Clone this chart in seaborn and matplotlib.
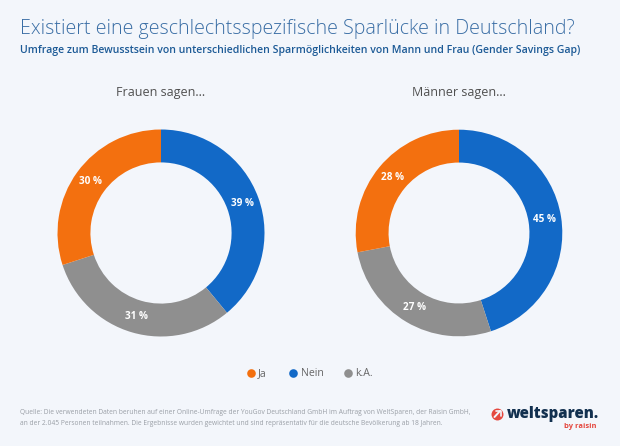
import math
import matplotlib
matplotlib.use('Agg')
import matplotlib.pyplot as plt
from matplotlib.lines import Line2D
import seaborn as sns

#%% data
labels = ['Nein', 'k.A.', 'Ja']
frauen = [39, 31, 30]
maenner = [45, 27, 28]
legend_labels = ['Ja', 'Nein', 'k.A.']
title = 'Existiert eine geschlechtsspezifische Sparlücke in Deutschland?'
subtitle = 'Umfrage zum Bewusstsein von unterschiedlichen Sparmöglichkeiten von Mann und Frau (Gender Savings Gap)'
source = ('Quelle: Die verwendeten Daten beruhen auf einer Online-Umfrage der YouGov Deutschland GmbH im Auftrag von WeltSparen, der Raisin GmbH,\n'
          'an der 2.045 Personen teilnahmen. Die Ergebnisse wurden gewichtet und sind repräsentativ für die deutsche Bevölkerung ab 18 Jahren.')

#%% setup plot
colors = {'Ja': '#f3700f', 'Nein': '#1269c7', 'k.A.': '#8f8f8f'}
bg = '#f3f6fb'
W, H = 620, 446
sns.set_theme(style='white')
plt.rcParams['font.family'] = ['Open Sans', 'DejaVu Sans']
fig = plt.figure(figsize=(W / 100, H / 100), dpi=100, facecolor=bg)

def donut(values, cx, cy, r, heading):
    ax = fig.add_axes([(cx - r) / W, 1 - (cy + r) / H, 2 * r / W, 2 * r / H])
    ax.pie(values, colors=[colors[l] for l in labels], startangle=90,
           counterclock=False, radius=1, wedgeprops={'width': 0.318, 'linewidth': 0})
    ax.set_xlim(-1, 1)
    ax.set_ylim(-1, 1)
    ax.set_aspect('equal')
    ax.axis('off')
    # value labels sit in the ring
    start = 90
    for v in values:
        mid = math.radians(start - v * 3.6 / 2)
        ax.text(0.84 * math.cos(mid), 0.84 * math.sin(mid), f'{v} %', color='white',
                fontsize=7.2, fontweight='bold', ha='center', va='center')
        start -= v * 3.6
    fig.text(cx / W, 1 - 92.5 / H, heading, color='#505050', fontsize=9.0, ha='center', va='center',
             fontweight='medium')

donut(frauen, 161, 233, 103.5, 'Frauen sagen...')
donut(maenner, 459, 233, 103.3, 'Männer sagen...')

fig.text(20.5 / W, 1 - 29 / H, title, color='#3a6ea5', fontsize=14.1, va='center', ha='left', fontweight='light')
fig.text(20.5 / W, 1 - 50 / H, subtitle, color='#1c5a96', fontsize=7.57, va='center', ha='left', fontweight='semibold')
fig.text(20.5 / W, 1 - 418 / H, source, color='#9a9fa6', fontsize=4.78, va='center', ha='left', linespacing=1.65)

#%% legend
for lab, mx in zip(legend_labels, [250.5, 293, 348]):
    fig.add_artist(Line2D([mx / W], [1 - 373 / H], marker='o', markersize=6.2, color=colors[lab],
                          linestyle='none', markeredgewidth=0, transform=fig.transFigure))
    fig.text((mx + 7.5) / W, 1 - 373.5 / H, lab, color='#666666', fontsize=7.6, va='center', ha='left')

#%% logo
fig.text(506.5 / W, 1 - 414.5 / H, 'weltsparen.', color='#12304f', fontsize=10.8, fontweight='heavy', va='center', ha='left')
fig.text(580 / W, 1 - 426 / H, 'by raisin', color='#e5483f', fontsize=5.4, fontweight='bold', va='center', ha='center')
fig.add_artist(Line2D([497.5 / W], [1 - 413.5 / H], marker='o', markersize=8.6, color='#e5483f',
                      linestyle='none', markeredgewidth=0, transform=fig.transFigure))
fig.add_artist(Line2D([494.5 / W, 500 / W], [1 - 417 / H, 1 - 411 / H], color=bg, lw=1.4, transform=fig.transFigure))
fig.add_artist(Line2D([495.5 / W, 500.5 / W, 500.5 / W], [1 - 410.5 / H, 1 - 410.5 / H, 1 - 415.5 / H],
                      color=bg, lw=1.2, transform=fig.transFigure))

plt.savefig('out.png', dpi=100, facecolor=bg)
